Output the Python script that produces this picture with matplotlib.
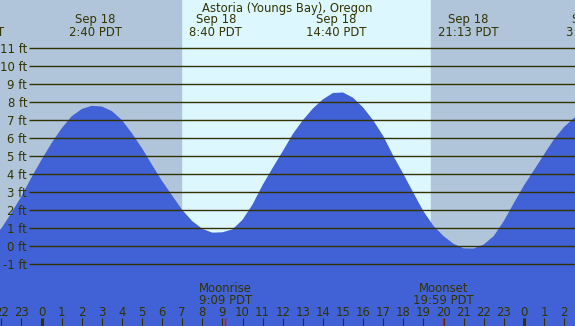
import matplotlib
matplotlib.use("Agg")
import matplotlib.pyplot as plt
import numpy as np

# tide height (ft) every half hour, hours from Sep 18 00:00 PDT
hours = np.arange(-2.5, 27.01, 0.5)
height = [0.45, 0.97, 1.83, 2.75, 3.80, 4.78, 5.70, 6.52, 7.19, 7.59,
          7.77, 7.73, 7.48, 6.98, 6.25, 5.42, 4.50, 3.60, 2.80, 2.00,
          1.38, 0.95, 0.74, 0.76, 0.92, 1.45, 2.30, 3.38, 4.33, 5.25,
          6.20, 6.97, 7.62, 8.13, 8.48, 8.51, 8.22, 7.68, 6.97, 6.10,
          5.00, 4.00, 2.95, 1.93, 1.12, 0.55, 0.12, -0.13, -0.14, 0.08,
          0.55, 1.38, 2.38, 3.35, 4.20, 5.07, 5.92, 6.60, 7.10, 7.45]

event_hours = [-3.37, 2.667, 8.667, 14.667, 21.217, 27.42]
event_days = ["Sep 17", "Sep 18", "Sep 18", "Sep 18", "Sep 18", "Sep 19"]
event_times = ["20:38 PDT", "2:40 PDT", "8:40 PDT", "14:40 PDT", "21:13 PDT", "3:25 PDT"]

sunrise = 6.94
sunset = 19.38

moon_hours = [9.15, 19.983]
moon_names = ["Moonrise", "Moonset"]
moon_times = ["9:09 PDT", "19:59 PDT"]

grid_ft = list(range(-1, 12))
hour_ticks = list(range(-2, 27))

title = "Astoria (Youngs Bay), Oregon"

# pixel scale of the original picture
W, H = 575, 326
X0, PXH = 41.5, 20.1   # pixel of hour 0, pixels per hour
Y0, PXF = 246.0, 18.04  # pixel of 0 ft, pixels per foot

TXT = "#333300"
NIGHT = "#b0c4da"
DAY = "#ddf7ff"
WATER = "#4161d6"
FS = 8.4


def px_h(x):
    return (x - X0) / PXH


def px_ft(y):
    return (Y0 - y) / PXF


fig = plt.figure(figsize=(W / 100, H / 100), dpi=100)
ax = fig.add_axes([0, 0, 1, 1])
ax.set_xlim(px_h(0), px_h(W))
ax.set_ylim(px_ft(H), px_ft(0))
ax.axis("off")

ax.axvspan(px_h(0), px_h(W), color=DAY, zorder=0)
ax.axvspan(px_h(0), sunrise, color=NIGHT, zorder=0.5)
ax.axvspan(sunset, px_h(W), color=NIGHT, zorder=0.5)

ax.fill_between(hours, height, px_ft(H) - 1, color=WATER, lw=0, zorder=1)

ax.hlines(grid_ft, px_h(29), px_h(W), color=TXT, lw=1.0, zorder=2)
for f in grid_ft:
    ax.text(px_h(27), f, f"{f} ft", ha="right", va="center_baseline",
            fontsize=FS, color=TXT, zorder=3)

ax.text(px_h(W / 2), px_ft(12.3), title, ha="center", va="baseline",
        fontsize=FS, color=TXT, zorder=3)
for h, d, t in zip(event_hours, event_days, event_times):
    ax.text(h, px_ft(23.5), d, ha="center", va="baseline", fontsize=FS, color=TXT, zorder=3)
    ax.text(h, px_ft(36), t, ha="center", va="baseline", fontsize=FS, color=TXT, zorder=3)

for h, n, t in zip(moon_hours, moon_names, moon_times):
    ax.text(h, px_ft(291.5), n, ha="center", va="baseline", fontsize=FS, color=TXT, zorder=3)
    ax.text(h, px_ft(304.3), t, ha="center", va="baseline", fontsize=FS, color=TXT, zorder=3)

for h in hour_ticks:
    ax.text(h, px_ft(316.5), str(h % 24), ha="center", va="baseline",
            fontsize=FS, color=TXT, zorder=3)
    lw = 2.2 if h % 24 == 0 else 0.8
    ax.vlines(h, px_ft(H), px_ft(318), color=TXT, lw=lw, zorder=3)

ax.vlines(moon_hours, px_ft(H), px_ft(318), color="red", lw=1.0, zorder=4)

fig.savefig("out.png", dpi=100)
